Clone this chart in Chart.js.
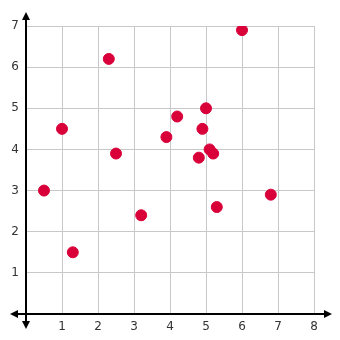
<!DOCTYPE html>
<html>
<head>
<meta charset="utf-8">
<script src="https://cdn.jsdelivr.net/npm/chart.js@4"></script>
<style>
  html, body { margin: 0; padding: 0; background: #fff; }
  #wrap { width: 340px; height: 340px; }
</style>
</head>
<body>
<div id="wrap"><canvas id="scatter_chart"></canvas></div>
<script>
const xValues = [0.5, 1.0, 1.3, 2.3, 2.5, 3.2, 3.9, 4.2, 4.8, 4.9, 5.0, 5.1, 5.2, 5.3, 6.0, 6.8]
const yValues = [3.0, 4.5, 1.5, 6.2, 3.9, 2.4, 4.3, 4.8, 3.8, 4.5, 5.0, 4.0, 3.9, 2.6, 6.9, 2.9]
const xTicks = [0, 1, 2, 3, 4, 5, 6, 7, 8]
const yTicks = [0, 1, 2, 3, 4, 5, 6, 7]

const points = xValues.map((x, i) => ({ x: x, y: yValues[i] }))

// axis lines + arrows sticking out of the grid
const arrowAxes = {
    id: 'arrowAxes',
    afterDraw(chart) {
        const ctx = chart.ctx
        const xs = chart.scales.x
        const ys = chart.scales.y
        const ox = xs.getPixelForValue(0)
        const oy = ys.getPixelForValue(0)
        const left = 10, right = 332, top = 12, bottom = 329
        ctx.save()
        ctx.strokeStyle = '#000'
        ctx.fillStyle = '#000'
        ctx.lineWidth = 2
        ctx.beginPath()
        ctx.moveTo(left + 4, oy); ctx.lineTo(right - 4, oy)
        ctx.moveTo(ox, top + 4); ctx.lineTo(ox, bottom - 4)
        ctx.stroke()
        const tri = (a, b, c) => {
            ctx.beginPath()
            ctx.moveTo(a[0], a[1]); ctx.lineTo(b[0], b[1]); ctx.lineTo(c[0], c[1])
            ctx.closePath(); ctx.fill()
        }
        tri([left, oy], [left + 8, oy - 4], [left + 8, oy + 4])
        tri([right, oy], [right - 8, oy - 4], [right - 8, oy + 4])
        tri([ox, top], [ox - 4, top + 8], [ox + 4, top + 8])
        tri([ox, bottom], [ox - 4, bottom - 8], [ox + 4, bottom - 8])
        ctx.restore()
    }
}

new Chart(document.querySelector('#scatter_chart'), {
    type: 'scatter',
    data: {
        datasets: [{
            data: points,
            backgroundColor: '#d9003a',
            borderColor: '#d9003a',
            pointRadius: 5.5,
            pointHoverRadius: 5.5
        }]
    },
    options: {
        responsive: true,
        maintainAspectRatio: false,
        animation: false,
        layout: { padding: { top: 26, right: 26, left: 0, bottom: 0 } },
        plugins: { legend: { display: false }, tooltip: { enabled: false } },
        scales: {
            x: {
                type: 'linear',
                min: xTicks[0],
                max: xTicks[xTicks.length - 1],
                afterBuildTicks: (scale) => { scale.ticks = xTicks.map(v => ({ value: v })) },
                afterFit: (scale) => { scale.height = 26 },
                grid: { color: '#c8c8c8', lineWidth: 1, drawTicks: false },
                border: { display: false },
                ticks: {
                    padding: 6,
                    color: '#333',
                    font: { family: 'DejaVu Sans', size: 12 },
                    callback: (v) => v === 0 ? '' : v
                }
            },
            y: {
                type: 'linear',
                min: yTicks[0],
                max: yTicks[yTicks.length - 1],
                afterBuildTicks: (scale) => { scale.ticks = yTicks.map(v => ({ value: v })) },
                afterFit: (scale) => { scale.width = 26 },
                grid: { color: '#c8c8c8', lineWidth: 1, drawTicks: false },
                border: { display: false },
                ticks: {
                    padding: 7,
                    color: '#333',
                    font: { family: 'DejaVu Sans', size: 12 },
                    callback: (v) => v === 0 ? '' : v
                }
            }
        }
    },
    plugins: [arrowAxes]
})
</script>
</body>
</html>
